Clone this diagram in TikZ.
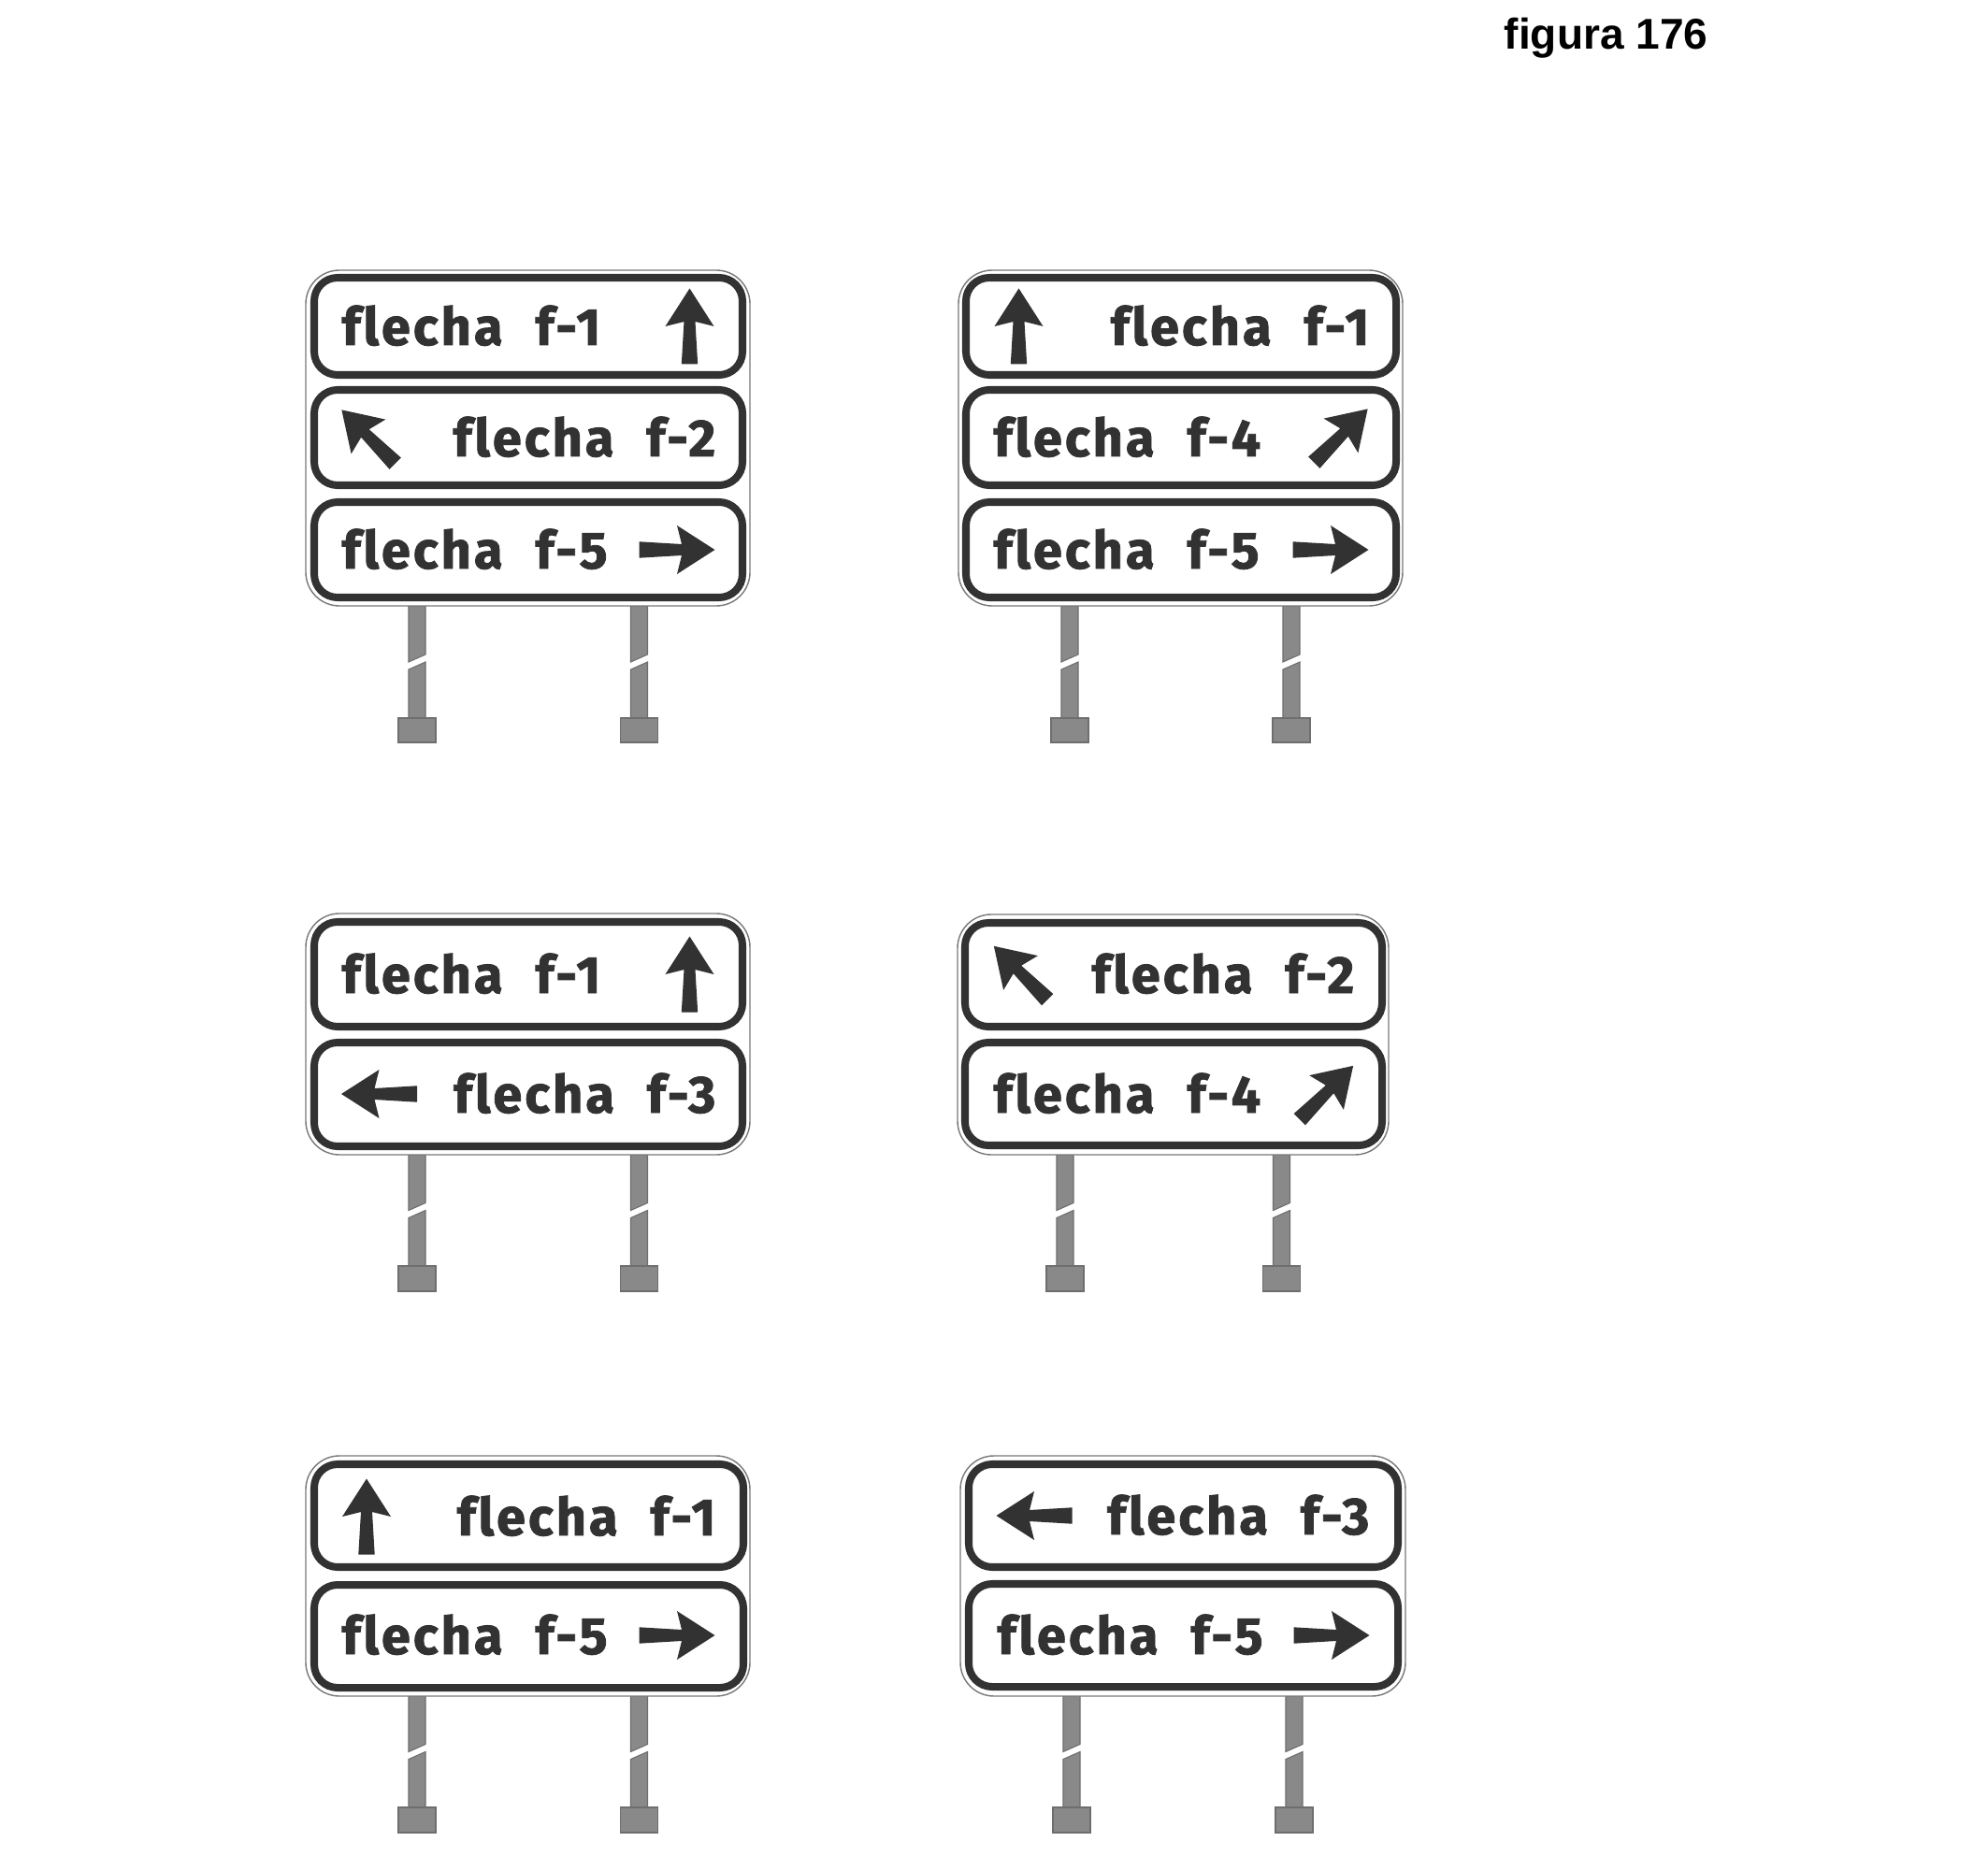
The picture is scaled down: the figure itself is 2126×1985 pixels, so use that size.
\documentclass[tikz,border=0pt]{standalone}
\usepackage{fontspec}
\newfontfamily\signfont{Fira Sans}[Ligatures=NoCommon, LetterSpace=5.4, BoldFeatures={FakeBold=1.5}]
\newfontfamily\labelfont{Liberation Sans}
\definecolor{ink}{RGB}{50,50,50}
\definecolor{postgray}{RGB}{137,137,137}
\definecolor{postedge}{RGB}{110,110,110}
\definecolor{rimgray}{RGB}{120,120,120}
\tikzset{
  signtext/.style={inner sep=0pt, text=ink, font=\signfont\bfseries\fontsize{15.9}{19}\selectfont},
  panelbox/.style={draw=ink, line width=2.28pt, rounded corners=0.25cm, fill=white},
  rimbox/.style={draw=rimgray, line width=0.4pt, rounded corners=0.36cm, fill=white},
  postpart/.style={fill=postgray, draw=postedge, line width=0.3pt},
  pics/sgarrow/.style={code={\fill[ink] (0,-40.5) -- (26,0) -- (6,-5) -- (8.7,40.5) -- (-8.7,40.5) -- (-6,-5) -- (-26,0) -- cycle;}},
  titletext/.style={inner sep=0pt, font=\labelfont\bfseries\fontsize{13.1}{15}\selectfont}
}
\newcommand\SgPost[4]{%
  \pgfmathsetmacro\sgmid{(#2+#3)/2}%
  \filldraw[postpart] ({#1-9},#2) -- ({#1+9},#2) -- ({#1+9},{\sgmid-8}) -- ({#1-9},\sgmid) -- cycle;
  \filldraw[postpart] ({#1-9},{\sgmid+8}) -- ({#1+9},\sgmid) -- ({#1+9},#3) -- ({#1-9},#3) -- cycle;
  \filldraw[postpart] ({#1-20},#3) rectangle ({#1+20},#4);
}
\newcommand\SgPanel[4]{% x0 y0 x1 y1 (outer edges of the stroke)
  \draw[panelbox] ({#1+4},{#2+4}) rectangle ({#3-4},{#4-4});
}
\newcommand\SgWord[1]{flecha\hspace{0.35cm}f-#1}
\begin{document}
\begin{tikzpicture}[x=0.01cm,y=-0.01cm]
\useasboundingbox (0,0) rectangle (2126,1985);
\fill[white] (0,0) rectangle (2126,1985);

\node[titletext, anchor=base west] (title) at (1608,53) {figura 176};

% ---------- sign A (top left)
\SgPost{446}{648}{768}{794}
\SgPost{683.5}{648}{768}{794}
\draw[rimbox] (327,289) rectangle (802,648);
\SgPanel{332}{293}{798}{405}
\SgPanel{332}{413}{798}{523}
\SgPanel{332}{533}{798}{643}
\node[signtext, anchor=base west] (a1) at (365,369) {\SgWord{1}};
\pic (a1arr) at (737.5,349) {sgarrow};
\pic[rotate=45] (a2arr) at (394,467) {sgarrow};
\node[signtext, anchor=base east] (a2) at (766,488) {\SgWord{2}};
\node[signtext, anchor=base west] (a3) at (365,608) {\SgWord{5}};
\pic[rotate=-90] (a3arr) at (724,588) {sgarrow};

% ---------- sign B (top right)
\SgPost{1144}{648}{768}{794}
\SgPost{1381}{648}{768}{794}
\draw[rimbox] (1025,289) rectangle (1500,648);
\SgPanel{1029}{293}{1497}{405}
\SgPanel{1029}{413}{1497}{523}
\SgPanel{1029}{533}{1497}{643}
\pic (b1arr) at (1089.5,349) {sgarrow};
\node[signtext, anchor=base east] (b1) at (1465,369) {\SgWord{1}};
\node[signtext, anchor=base west] (b2) at (1062,488) {\SgWord{4}};
\pic[rotate=-45] (b2arr) at (1434,466) {sgarrow};
\node[signtext, anchor=base west] (b3) at (1062,608) {\SgWord{5}};
\pic[rotate=-90] (b3arr) at (1423,588) {sgarrow};

% ---------- sign C (middle left)
\SgPost{446}{1235}{1354}{1381}
\SgPost{683.5}{1235}{1354}{1381}
\draw[rimbox] (327,977) rectangle (802,1235);
\SgPanel{332}{982}{798}{1102}
\SgPanel{332}{1111}{798}{1230}
\node[signtext, anchor=base west] (c1) at (365,1062) {\SgWord{1}};
\pic (c1arr) at (737.5,1042) {sgarrow};
\pic[rotate=90] (c2arr) at (405.5,1170) {sgarrow};
\node[signtext, anchor=base east] (c2) at (766,1190) {\SgWord{3}};

% ---------- sign D (middle right)
\SgPost{1139}{1235}{1354}{1381}
\SgPost{1370.5}{1235}{1354}{1381}
\draw[rimbox] (1024,978) rectangle (1485,1235);
\SgPanel{1028}{983}{1482}{1102}
\SgPanel{1028}{1111}{1482}{1229}
\pic[rotate=45] (d1arr) at (1091.5,1040.5) {sgarrow};
\node[signtext, anchor=base east] (d1) at (1449,1062) {\SgWord{2}};
\node[signtext, anchor=base west] (d2) at (1062,1190) {\SgWord{4}};
\pic[rotate=-45] (d2arr) at (1418.5,1168.5) {sgarrow};

% ---------- sign E (bottom left)
\SgPost{446}{1814}{1933}{1960}
\SgPost{683.5}{1814}{1933}{1960}
\draw[rimbox] (327,1557) rectangle (802,1814);
\SgPanel{332}{1562}{799}{1680}
\SgPanel{332}{1691}{799}{1809}
\pic (e1arr) at (392,1622) {sgarrow};
\node[signtext, anchor=base east] (e1) at (766,1642) {\SgWord{1}};
\node[signtext, anchor=base west] (e2) at (365,1769) {\SgWord{5}};
\pic[rotate=-90] (e2arr) at (724,1749) {sgarrow};

% ---------- sign F (bottom right)
\SgPost{1146}{1814}{1933}{1960}
\SgPost{1384}{1814}{1933}{1960}
\draw[rimbox] (1027,1557) rectangle (1503,1814);
\SgPanel{1032}{1562}{1499}{1680}
\SgPanel{1032}{1690}{1499}{1808}
\pic[rotate=90] (f1arr) at (1106,1621) {sgarrow};
\node[signtext, anchor=base east] (f1) at (1465,1641) {\SgWord{3}};
\node[signtext, anchor=base west] (f2) at (1066,1769) {\SgWord{5}};
\pic[rotate=-90] (f2arr) at (1424,1749) {sgarrow};
\end{tikzpicture}
\end{document}
